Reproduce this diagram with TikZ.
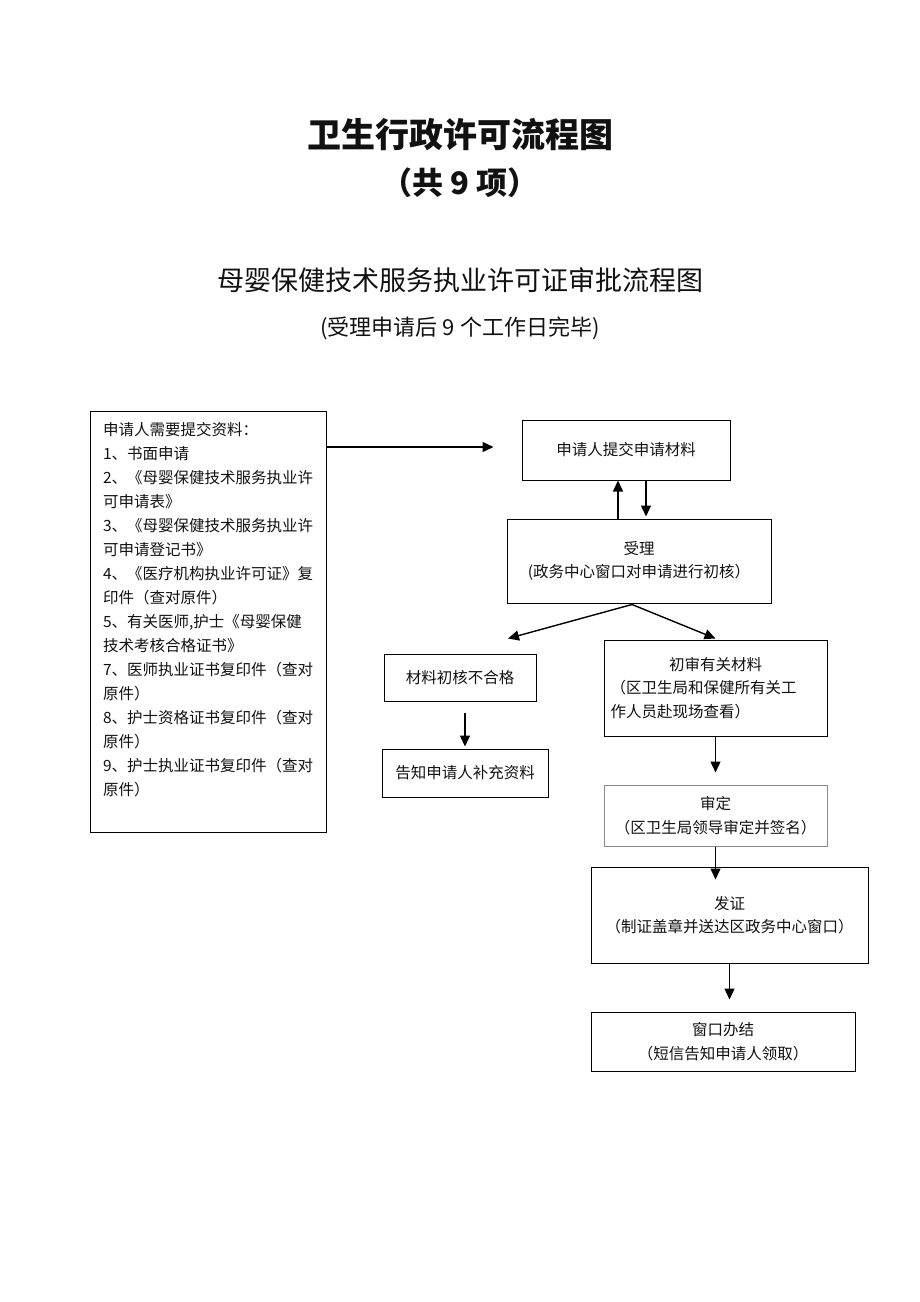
\documentclass[tikz,border=0pt]{standalone}
\usepackage{fontspec}
\setmainfont{Noto Sans CJK SC}
\usetikzlibrary{positioning,calc,arrows.meta}
\usepackage{xcolor}
\definecolor{lineblack}{HTML}{000000}
\definecolor{linegrey}{HTML}{8A8A8A}
\definecolor{textprimary}{HTML}{111111}

\tikzset{
  flowbox/.style={draw=lineblack,line width=1pt,align=center,text=textprimary,
    font=\fontsize{15.5}{23.5}\selectfont,inner sep=0pt},
  flowarrow/.style={draw=lineblack,line width=1.4pt,-{Triangle[length=11pt,width=10pt]}},
}

\begin{document}
\begin{tikzpicture}[x=1pt,y=-1pt]
    \useasboundingbox (0,0) rectangle (920,1302);

    % Headings
    \node[text=textprimary,font=\fontsize{34}{40}\selectfont\bfseries] (title) at (460,135) {卫生行政许可流程图};
    \node[text=textprimary,font=\fontsize{31}{40}\selectfont\bfseries] (count) at (460,183) {（共 9 项）};
    \node[text=textprimary,font=\fontsize{27}{32}\selectfont] (subtitle) at (460,280) {母婴保健技术服务执业许可证审批流程图};
    \node[text=textprimary,font=\fontsize{22}{28}\selectfont] (period) at (460,328) {(受理申请后 9 个工作日完毕)};

    % Documents the applicant hands in
    \node[flowbox,anchor=north west,minimum width=236,minimum height=421,inner xsep=12pt,align=left,
          font=\fontsize{15.5}{24}\selectfont] (docs) at (90,411)
      {\parbox[t][421pt][t]{211pt}{\vspace*{11pt}%
       申请人需要提交资料：\\
       1、书面申请\\
       2、《母婴保健技术服务执业许\\
       可申请表》\\
       3、《母婴保健技术服务执业许\\
       可申请登记书》\\
       4、《医疗机构执业许可证》复\\
       印件（查对原件）\\
       5、有关医师,护士《母婴保健\\
       技术考核合格证书》\\
       7、医师执业证书复印件（查对\\
       原件）\\
       8、护士资格证书复印件（查对\\
       原件）\\
       9、护士执业证书复印件（查对\\
       原件）}};

    % Main flow boxes
    \node[flowbox,minimum width=208,minimum height=60] (submit) at (626,450) {申请人提交申请材料};
    \node[flowbox,minimum width=264,minimum height=84] (accept) at (639,561) {受理\\(政务中心窗口对申请进行初核）};
    \node[flowbox,minimum width=152,minimum height=47] (fail) at (460,677.5) {材料初核不合格};
    \node[flowbox,minimum width=166,minimum height=48] (notify) at (465,773) {告知申请人补充资料};
    \node[flowbox,minimum width=223,minimum height=96,align=left,text width=210] (review) at (715.5,688)
      {\makebox[210pt]{初审有关材料}\\（区卫生局和保健所有关工\\作人员赴现场查看）};
    \node[flowbox,draw=linegrey,minimum width=223,minimum height=61] (approve) at (715.5,815.5) {审定\\（区卫生局领导审定并签名）};
    \node[flowbox,minimum width=277,minimum height=96] (issue) at (729.5,915) {发证\\（制证盖章并送达区政务中心窗口）};
    \node[flowbox,minimum width=264,minimum height=59] (done) at (723,1041.5) {窗口办结\\（短信告知申请人领取）};

    % Arrow ends
    \coordinate (submitin) at ($(submit.west)+(-28,-3)$);
    \coordinate (split) at ($(accept.south)+(-7,1)$);
    \coordinate (failin) at ($(fail.north)+(48,-15)$);
    \coordinate (issuein) at ($(issue.north)+(-14,13)$);

    % Connectors
    \draw[flowarrow] (docs.east |- submitin) -- (submitin);
    \draw[flowarrow] ($(accept.north)+(-21,0)$) -- ($(submit.south)+(-8,0)$);
    \draw[flowarrow] ($(submit.south)+(20,0)$) -- ($(accept.north)+(7,-2)$);
    \draw[flowarrow] (split) -- (failin);
    \draw[flowarrow] (split) -- ($(review.north)+(0,-1)$);
    \draw[flowarrow] ($(fail.south)+(5,11)$) -- ($(notify.north)+(0,-2)$);
    \draw[flowarrow] (review.south) -- ($(approve.north)+(0,-12)$);
    \draw[flowarrow] (approve.south) -- (issuein);
    \draw[flowarrow] (issue.south) -- ($(done.north)+(6.5,-12)$);
\end{tikzpicture}
\end{document}
